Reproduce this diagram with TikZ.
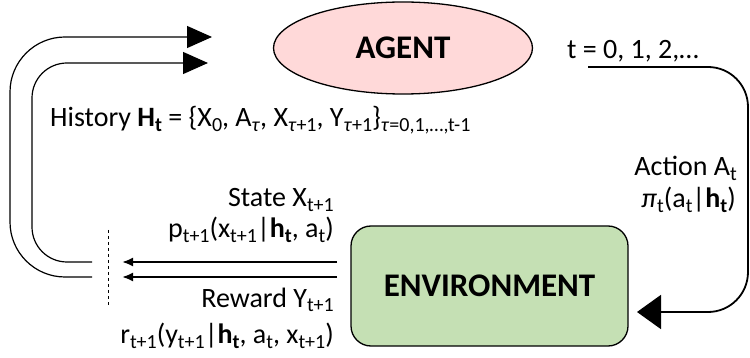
\documentclass[tikz,border=0pt]{standalone}
\usepackage{fontspec}
\setmainfont{Carlito}
\usetikzlibrary{arrows.meta,shapes.geometric}
\newcommand\sbs[1]{\raisebox{-5pt}{\fontsize{20}{20}\selectfont #1}}
\tikzset{
  lbl/.style={font=\fontsize{28}{32}\selectfont, inner sep=0pt},
  agentnode/.style={ellipse, draw, line width=1.3pt, fill=agentfill, minimum width=259pt, minimum height=92pt, inner sep=0pt, font=\fontsize{33}{36}\selectfont\bfseries},
  envnode/.style={rectangle, rounded corners=20pt, draw, line width=1.3pt, fill=envfill, minimum width=277pt, minimum height=120pt, inner sep=0pt, font=\fontsize{33}{36}\selectfont\bfseries},
  hist/.style={line width=1.2pt, -{Triangle[length=25pt,width=22pt]}},
  obs/.style={line width=2pt, -{Latex[length=11pt,width=9pt]}},
  act/.style={line width=1.8pt, rounded corners=40pt, -{Triangle[length=24pt,width=34pt]}},
}
\definecolor{agentfill}{HTML}{FFD9D9}
\definecolor{envfill}{HTML}{C5E0B4}
\begin{document}
\begin{tikzpicture}[x=1pt,y=-1pt]
\useasboundingbox (0,0) rectangle (750,358);
\node[agentnode] (agent) at (403,48) {AGENT};
\node[envnode] (env) at (489.5,286) {ENVIRONMENT};
% history loops
\coordinate (ho1) at (92,277);
\coordinate (ho2) at (212,37);
\coordinate (hi1) at (92,262);
\coordinate (hi2) at (208,63);
\draw[hist, rounded corners=55pt] (ho1) -| (10,37) -- (ho2);
\draw[hist, rounded corners=35pt] (hi1) -| (32,63) -- (hi2);
% observation arrows
\coordinate (s1) at (337,262);
\coordinate (s2) at (122,262);
\coordinate (r1) at (337,277);
\coordinate (r2) at (122,277);
\draw[obs] (s1) -- (s2);
\draw[obs] (r1) -- (r2);
\coordinate (d1) at (108,230);
\coordinate (d2) at (108,307);
\draw[dashed, line width=0.9pt] (d1) -- (d2);
% action loop
\coordinate (a1) at (588,67);
\coordinate (a2) at (637,312);
\draw[act] (a1) -| (748,312) -- (a2);
% labels
\node[lbl, anchor=base west] (hl) at (50,127) {History \textbf{H\sbs{t}} = \{X\sbs{0}, A\sbs{\textit{τ}}, X\sbs{\textit{τ}+1}, Y\sbs{\textit{τ}+1}\}\sbs{\textit{τ}=0,1,…,t-1}};
\node[lbl, anchor=base west] (tl) at (567,59) {t = 0, 1, 2,…};
\node[lbl, anchor=base east] (al1) at (737,176) {Action A\sbs{t}};
\node[lbl, anchor=base east] (al2) at (736,208) {\textit{π}\sbs{t}(a\sbs{t}|\textbf{h\sbs{t}})};
\node[lbl, anchor=base east] (sl1) at (334,207) {State X\sbs{t+1}};
\node[lbl, anchor=base east] (sl2) at (334,238) {p\sbs{t+1}(x\sbs{t+1}|\textbf{h\sbs{t}}, a\sbs{t})};
\node[lbl, anchor=base east] (rl1) at (334,307) {Reward Y\sbs{t+1}};
\node[lbl, anchor=base east] (rl2) at (334,343) {r\sbs{t+1}(y\sbs{t+1}|\textbf{h\sbs{t}}, a\sbs{t}, x\sbs{t+1})};
\end{tikzpicture}
\end{document}
